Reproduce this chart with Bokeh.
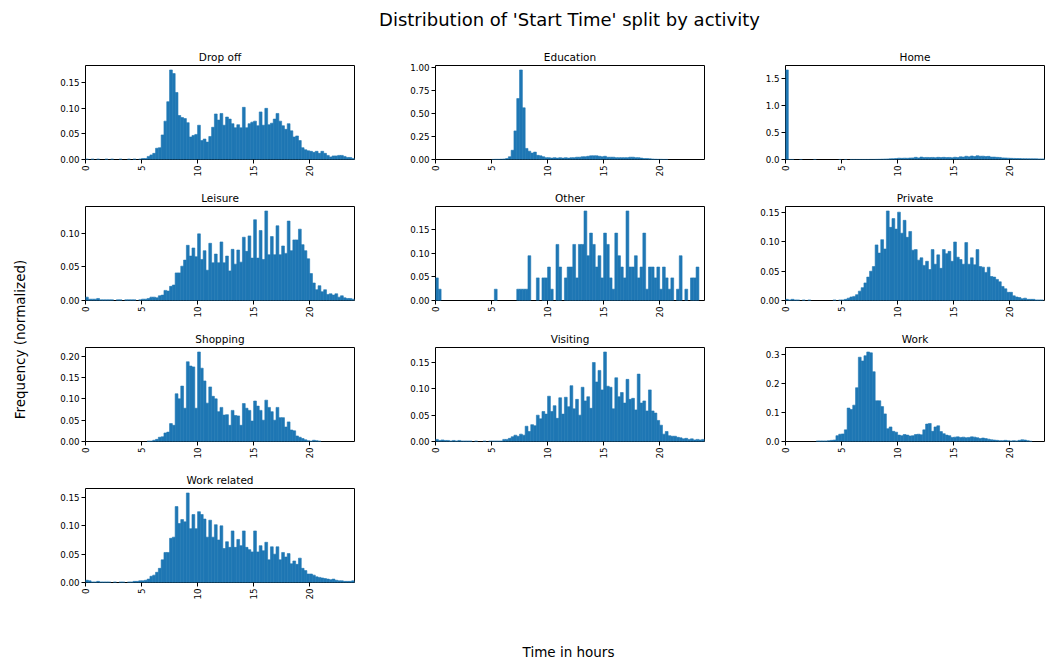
import math
import numpy as np
from bokeh.plotting import figure
from bokeh.layouts import column, row
from bokeh.models import Range1d, FixedTicker, PrintfTickFormatter, Label
from bokeh.embed import file_html
from bokeh.resources import INLINE

# Normalized start-time histograms, 96 quarter-hour bins (0h .. 24h), 4 bins per row = 1 hour
drop_off = [
    0.001, 0.000, 0.001, 0.000,  0.001, 0.000, 0.000, 0.001,  0.000, 0.001, 0.000, 0.000,
    0.001, 0.000, 0.000, 0.001,  0.000, 0.001, 0.000, 0.001,  0.002, 0.002, 0.006, 0.009,
    0.012, 0.022, 0.023, 0.048,  0.075, 0.113, 0.175, 0.168,  0.131, 0.086, 0.082, 0.080,
    0.072, 0.044, 0.047, 0.049,  0.067, 0.037, 0.040, 0.034,  0.045, 0.063, 0.089, 0.077,
    0.090, 0.067, 0.083, 0.079,  0.070, 0.062, 0.068, 0.062,  0.102, 0.062, 0.070, 0.073,
    0.075, 0.066, 0.093, 0.067,  0.100, 0.068, 0.071, 0.079,  0.090, 0.075, 0.066, 0.059,
    0.070, 0.056, 0.044, 0.046,  0.037, 0.023, 0.019, 0.017,  0.016, 0.014, 0.016, 0.012,
    0.016, 0.012, 0.008, 0.005,  0.007, 0.007, 0.008, 0.008,  0.006, 0.004, 0.004, 0.002,
]
education = [
    0.000, 0.000, 0.000, 0.000,  0.000, 0.000, 0.000, 0.000,  0.000, 0.000, 0.000, 0.000,
    0.000, 0.000, 0.000, 0.000,  0.000, 0.000, 0.000, 0.000,  0.001, 0.002, 0.002, 0.003,
    0.005, 0.010, 0.030, 0.100,  0.310, 0.660, 0.970, 0.560,  0.120, 0.090, 0.070, 0.080,
    0.045, 0.040, 0.030, 0.020,  0.020, 0.015, 0.020, 0.015,  0.020, 0.015, 0.020, 0.015,
    0.020, 0.020, 0.025, 0.025,  0.030, 0.030, 0.035, 0.040,  0.040, 0.040, 0.035, 0.030,
    0.035, 0.025, 0.025, 0.025,  0.020, 0.020, 0.020, 0.020,  0.020, 0.025, 0.025, 0.020,
    0.020, 0.015, 0.010, 0.010,  0.008, 0.005, 0.003, 0.002,  0.002, 0.001, 0.001, 0.000,
    0.000, 0.000, 0.000, 0.000,  0.000, 0.000, 0.000, 0.000,  0.000, 0.000, 0.000, 0.000,
]
home = [
    1.660, 0.001, 0.001, 0.000,  0.000, 0.001, 0.000, 0.000,  0.000, 0.000, 0.001, 0.000,
    0.000, 0.000, 0.000, 0.000,  0.000, 0.000, 0.000, 0.001,  0.000, 0.001, 0.000, 0.001,
    0.001, 0.001, 0.001, 0.001,  0.001, 0.001, 0.002, 0.002,  0.003, 0.004, 0.006, 0.008,
    0.010, 0.013, 0.015, 0.018,  0.025, 0.022, 0.025, 0.023,  0.028, 0.030, 0.040, 0.030,
    0.045, 0.035, 0.038, 0.035,  0.038, 0.034, 0.040, 0.036,  0.040, 0.035, 0.038, 0.032,
    0.042, 0.035, 0.050, 0.045,  0.060, 0.050, 0.065, 0.055,  0.070, 0.060, 0.062, 0.055,
    0.058, 0.045, 0.045, 0.040,  0.038, 0.030, 0.028, 0.025,  0.022, 0.020, 0.018, 0.017,
    0.016, 0.015, 0.014, 0.013,  0.013, 0.012, 0.011, 0.011,  0.010, 0.009, 0.008, 0.008,
]
leisure = [
    0.005, 0.002, 0.002, 0.002,  0.003, 0.001, 0.001, 0.001,  0.001, 0.001, 0.000, 0.001,
    0.001, 0.000, 0.001, 0.001,  0.001, 0.001, 0.000, 0.001,  0.002, 0.002, 0.003, 0.005,
    0.005, 0.004, 0.007, 0.008,  0.015, 0.014, 0.021, 0.023,  0.041, 0.041, 0.051, 0.060,
    0.082, 0.066, 0.078, 0.065,  0.099, 0.061, 0.074, 0.045,  0.085, 0.056, 0.069, 0.056,
    0.087, 0.056, 0.066, 0.044,  0.076, 0.054, 0.075, 0.057,  0.094, 0.073, 0.096, 0.063,
    0.120, 0.063, 0.104, 0.061,  0.133, 0.068, 0.095, 0.068,  0.111, 0.068, 0.081, 0.070,
    0.118, 0.074, 0.090, 0.090,  0.106, 0.083, 0.074, 0.062,  0.040, 0.026, 0.016, 0.022,
    0.013, 0.016, 0.009, 0.010,  0.008, 0.010, 0.005, 0.007,  0.004, 0.003, 0.003, 0.002,
]
other = [
    0.048, 0.024, 0.000, 0.000,  0.000, 0.000, 0.000, 0.000,  0.000, 0.000, 0.000, 0.000,
    0.000, 0.000, 0.000, 0.000,  0.000, 0.000, 0.000, 0.000,  0.000, 0.024, 0.000, 0.000,
    0.000, 0.000, 0.000, 0.000,  0.000, 0.024, 0.024, 0.024,  0.024, 0.095, 0.000, 0.000,
    0.048, 0.000, 0.048, 0.048,  0.071, 0.024, 0.000, 0.119,  0.071, 0.000, 0.048, 0.071,
    0.071, 0.119, 0.048, 0.119,  0.119, 0.190, 0.095, 0.143,  0.119, 0.071, 0.095, 0.048,
    0.143, 0.119, 0.048, 0.024,  0.143, 0.095, 0.071, 0.048,  0.190, 0.071, 0.071, 0.095,
    0.048, 0.071, 0.143, 0.024,  0.071, 0.071, 0.048, 0.071,  0.024, 0.071, 0.048, 0.024,
    0.048, 0.000, 0.024, 0.095,  0.000, 0.024, 0.000, 0.048,  0.048, 0.071, 0.000, 0.000,
]
private = [
    0.002, 0.001, 0.002, 0.001,  0.001, 0.000, 0.001, 0.000,  0.001, 0.000, 0.000, 0.000,
    0.000, 0.000, 0.000, 0.000,  0.000, 0.001, 0.000, 0.001,  0.001, 0.002, 0.004, 0.006,
    0.007, 0.010, 0.016, 0.022,  0.030, 0.040, 0.050, 0.058,  0.095, 0.081, 0.104, 0.088,
    0.153, 0.125, 0.140, 0.122,  0.151, 0.115, 0.137, 0.108,  0.118, 0.086, 0.087, 0.069,
    0.073, 0.060, 0.067, 0.053,  0.087, 0.062, 0.078, 0.055,  0.087, 0.080, 0.084, 0.067,
    0.100, 0.074, 0.070, 0.062,  0.099, 0.062, 0.073, 0.061,  0.087, 0.058, 0.057, 0.048,
    0.057, 0.041, 0.040, 0.036,  0.032, 0.024, 0.020, 0.014,  0.014, 0.008, 0.006, 0.005,
    0.003, 0.004, 0.002, 0.002,  0.002, 0.001, 0.001, 0.001,  0.000, 0.000, 0.000, 0.000,
]
shopping = [
    0.000, 0.000, 0.000, 0.000,  0.000, 0.000, 0.000, 0.000,  0.000, 0.000, 0.000, 0.000,
    0.000, 0.000, 0.000, 0.000,  0.000, 0.000, 0.000, 0.000,  0.000, 0.000, 0.001, 0.001,
    0.003, 0.005, 0.010, 0.011,  0.020, 0.022, 0.042, 0.038,  0.112, 0.100, 0.130, 0.078,
    0.187, 0.177, 0.175, 0.078,  0.210, 0.172, 0.142, 0.090,  0.128, 0.106, 0.100, 0.070,
    0.080, 0.062, 0.063, 0.038,  0.073, 0.061, 0.060, 0.038,  0.089, 0.078, 0.073, 0.048,
    0.095, 0.083, 0.073, 0.050,  0.097, 0.080, 0.070, 0.050,  0.080, 0.056, 0.056, 0.034,
    0.046, 0.027, 0.025, 0.013,  0.010, 0.007, 0.004, 0.002,  0.001, 0.003, 0.002, 0.001,
    0.000, 0.000, 0.000, 0.000,  0.000, 0.000, 0.000, 0.000,  0.000, 0.000, 0.000, 0.000,
]
visiting = [
    0.004, 0.002, 0.003, 0.002,  0.002, 0.001, 0.002, 0.001,  0.002, 0.001, 0.001, 0.001,
    0.001, 0.000, 0.001, 0.000,  0.000, 0.001, 0.000, 0.001,  0.001, 0.001, 0.001, 0.001,
    0.004, 0.004, 0.006, 0.009,  0.012, 0.010, 0.014, 0.012,  0.029, 0.019, 0.032, 0.030,
    0.050, 0.043, 0.057, 0.052,  0.086, 0.057, 0.068, 0.044,  0.083, 0.052, 0.084, 0.066,
    0.106, 0.062, 0.080, 0.050,  0.103, 0.077, 0.085, 0.063,  0.150, 0.113, 0.135, 0.098,
    0.170, 0.105, 0.103, 0.062,  0.121, 0.085, 0.093, 0.073,  0.118, 0.080, 0.082, 0.060,
    0.128, 0.073, 0.077, 0.058,  0.098, 0.058, 0.054, 0.040,  0.031, 0.014, 0.019, 0.011,
    0.010, 0.010, 0.008, 0.007,  0.005, 0.006, 0.004, 0.005,  0.003, 0.004, 0.003, 0.004,
]
work = [
    0.000, 0.000, 0.000, 0.000,  0.000, 0.000, 0.000, 0.000,  0.000, 0.000, 0.000, 0.002,
    0.002, 0.002, 0.002, 0.003,  0.004, 0.005, 0.020, 0.025,  0.026, 0.040, 0.115, 0.110,
    0.125, 0.185, 0.290, 0.277,  0.295, 0.308, 0.305, 0.240,  0.140, 0.140, 0.120, 0.095,
    0.044, 0.050, 0.035, 0.032,  0.022, 0.020, 0.024, 0.022,  0.019, 0.020, 0.024, 0.025,
    0.023, 0.040, 0.060, 0.062,  0.035, 0.050, 0.054, 0.034,  0.027, 0.022, 0.020, 0.014,
    0.015, 0.016, 0.014, 0.015,  0.013, 0.014, 0.016, 0.015,  0.013, 0.010, 0.012, 0.010,
    0.008, 0.006, 0.005, 0.004,  0.003, 0.003, 0.004, 0.003,  0.002, 0.003, 0.002, 0.004,
    0.006, 0.005, 0.003, 0.001,  0.000, 0.000, 0.000, 0.000,  0.000, 0.000, 0.000, 0.000,
]
work_related = [
    0.004, 0.003, 0.001, 0.001,  0.002, 0.001, 0.001, 0.001,  0.001, 0.000, 0.001, 0.000,
    0.001, 0.001, 0.000, 0.001,  0.001, 0.002, 0.002, 0.003,  0.003, 0.004, 0.006, 0.011,
    0.013, 0.018, 0.025, 0.040,  0.053, 0.053, 0.078, 0.080,  0.134, 0.104, 0.111, 0.107,
    0.158, 0.095, 0.120, 0.095,  0.125, 0.120, 0.112, 0.080,  0.110, 0.080, 0.102, 0.075,
    0.100, 0.060, 0.072, 0.062,  0.091, 0.062, 0.076, 0.065,  0.091, 0.062, 0.058, 0.054,
    0.091, 0.054, 0.065, 0.056,  0.071, 0.040, 0.063, 0.050,  0.063, 0.040, 0.053, 0.045,
    0.051, 0.033, 0.038, 0.032,  0.043, 0.025, 0.021, 0.015,  0.015, 0.013, 0.010, 0.009,
    0.008, 0.007, 0.006, 0.005,  0.006, 0.004, 0.003, 0.003,  0.002, 0.002, 0.002, 0.003,
]

activities = ["Drop off", "Education", "Home", "Leisure", "Other",
              "Private", "Shopping", "Visiting", "Work", "Work related"]
series = [drop_off, education, home, leisure, other,
          private, shopping, visiting, work, work_related]

# y tick values and their label formats per panel
y_ticks = [
    [0, 0.05, 0.10, 0.15], [0, 0.25, 0.50, 0.75, 1.00], [0, 0.5, 1.0, 1.5],
    [0, 0.05, 0.10], [0, 0.05, 0.10, 0.15], [0, 0.05, 0.10, 0.15],
    [0, 0.05, 0.10, 0.15, 0.20], [0, 0.05, 0.10, 0.15], [0, 0.1, 0.2, 0.3],
    [0, 0.05, 0.10, 0.15],
]
y_formats = ["%.2f", "%.2f", "%.1f", "%.2f", "%.2f", "%.2f", "%.2f", "%.2f", "%.1f", "%.2f"]
x_ticks = [0, 5, 10, 15, 20]

BIN_WIDTH = 0.25
X_MAX = 24.0
BAR_COLOR = "#1f77b4"
FONT = "DejaVu Sans"

FRAME_W = 269
FRAME_H = 94


def histogram_panel(name, values, col, ticks, fmt):
    frame_w = FRAME_W if col < 2 else 259
    x_end = X_MAX * frame_w / FRAME_W
    y_end = 1.05 * max(values)
    p = figure(
        frame_width=frame_w, frame_height=FRAME_H,
        x_range=Range1d(0, x_end), y_range=Range1d(0, y_end),
        min_border_left=55 if col == 0 else 80, min_border_right=1,
        min_border_top=24, min_border_bottom=23,
        toolbar_location=None, output_backend="svg", title=name,
    )
    vals = np.asarray(values)
    edges = np.arange(len(vals) + 1) * BIN_WIDTH
    filled = vals > 0  # empty bins draw nothing
    # a hairline in the fill colour closes the anti-aliasing seams between bars
    p.quad(left=edges[:-1][filled], right=edges[1:][filled], bottom=0, top=vals[filled],
           fill_color=BAR_COLOR, line_color=BAR_COLOR, line_width=0.6)

    p.title.align = "center"
    p.title.text_font = FONT
    p.title.text_font_size = "10.5px"
    p.title.text_font_style = "normal"
    p.title.text_color = "black"
    p.title.standoff = 5

    p.xaxis.ticker = FixedTicker(ticks=x_ticks)
    p.xaxis.major_label_orientation = math.pi / 2
    p.yaxis.ticker = FixedTicker(ticks=ticks)
    p.yaxis.formatter = PrintfTickFormatter(format=fmt)
    p.axis.minor_tick_line_color = None
    p.axis.major_tick_in = 0
    p.axis.major_tick_out = 4
    p.axis.major_tick_line_color = "black"
    p.axis.axis_line_color = None
    p.axis.major_label_standoff = 2
    p.axis.major_label_text_font = FONT
    p.axis.major_label_text_font_size = "8.7px"
    p.axis.major_label_text_color = "black"
    p.grid.visible = False
    p.outline_line_color = "black"
    p.outline_line_alpha = 1.0
    p.outline_line_width = 1
    return p


panels = [histogram_panel(n, v, i % 3, t, f)
          for i, (n, v, t, f) in enumerate(zip(activities, series, y_ticks, y_formats))]
grid = column(
    row(*panels[0:3]),
    row(*panels[3:6]),
    row(*panels[6:9]),
    row(panels[9]),
)


def text_box(w, h, text, x, y, size, angle=0.0):
    f = figure(width=w, height=h, x_range=Range1d(0, w), y_range=Range1d(0, h),
               x_axis_location=None, y_axis_location=None, min_border=0,
               toolbar_location=None, output_backend="svg", outline_line_color=None)
    f.grid.visible = False
    f.add_layout(Label(x=x, y=y, text=text, angle=angle, text_align="center",
                       text_baseline="middle", text_font=FONT,
                       text_font_size=size, text_color="black"))
    return f


title_box = text_box(1045, 41, "Distribution of 'Start Time' split by activity", 569, 22, "18px")
ylabel_box = text_box(30, 564, "Frequency (normalized)", 19, 266, "13.5px", math.pi / 2)
xlabel_box = text_box(1045, 54, "Time in hours", 568, 8, "13.5px")

page = column(title_box, row(ylabel_box, grid), xlabel_box)

with open("out.html", "w") as fh:
    fh.write(file_html(page, INLINE))
